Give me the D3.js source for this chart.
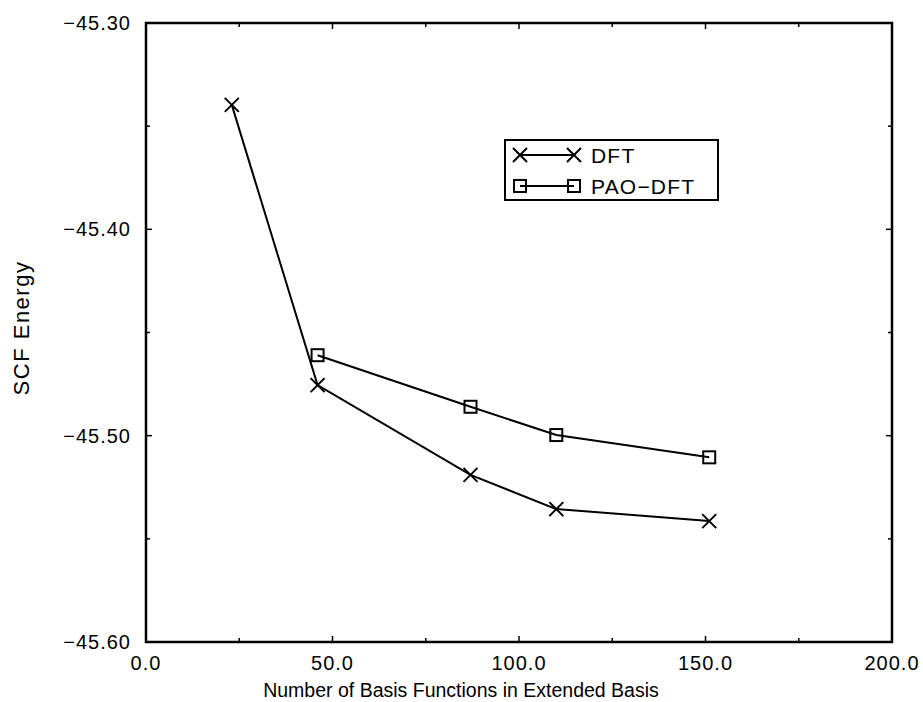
<!DOCTYPE html>
<html>
<head>
<meta charset="utf-8">
<script src="https://cdn.jsdelivr.net/npm/d3@7"></script>
<style>
  body { margin: 0; background: #fff; }
  svg text { font-family: "Liberation Sans", Arial, Helvetica, sans-serif; fill: #000; }
</style>
</head>
<body>
<svg id="chart" width="923" height="702"></svg>
<script>
"use strict";

// values
const dftX = [23, 46, 87, 110, 151];
const dftY = [-45.3397, -45.4755, -45.519, -45.5356, -45.5414];
const paoX = [46, 87, 110, 151];
const paoY = [-45.461, -45.486, -45.4997, -45.5105];
const xTicks = [0, 50, 100, 150, 200];
const yTicks = [-45.30, -45.40, -45.50, -45.60];
const seriesNames = ["DFT", "PAO\u2212DFT"];

let svg = d3.select('svg#chart');

let plot = { left: 146, right: 892, top: 23, bottom: 642 };

let x = d3.scaleLinear().domain([0, 200]).range([plot.left, plot.right]);
let y = d3.scaleLinear().domain([-45.60, -45.30]).range([plot.bottom, plot.top]);

let fmtY = v => d3.format('.2f')(v).replace('-', '\u2212');
let fmtX = v => d3.format('.1f')(v);

/* ticks: major on labels, minor halfway, on all four sides */
let minorX = d3.range(0, 201, 25);
let minorY = d3.range(0, 7).map(i => -45.60 + i * 0.05);

let tk = svg.append('g').attr('stroke', '#000').attr('stroke-width', 1.5);
minorX.forEach((v, i) => {
  let len = (i % 2 === 0) ? 6 : 4;
  tk.append('line').attr('x1', x(v)).attr('x2', x(v)).attr('y1', plot.bottom).attr('y2', plot.bottom - len);
  tk.append('line').attr('x1', x(v)).attr('x2', x(v)).attr('y1', plot.top).attr('y2', plot.top + len);
});
minorY.forEach((v, i) => {
  let len = (i % 2 === 0) ? 6 : 4;
  tk.append('line').attr('y1', y(v)).attr('y2', y(v)).attr('x1', plot.left).attr('x2', plot.left + len);
  tk.append('line').attr('y1', y(v)).attr('y2', y(v)).attr('x1', plot.right).attr('x2', plot.right - len);
});

/* frame */
svg.append('rect')
   .attr('x', plot.left).attr('y', plot.top)
   .attr('width', plot.right - plot.left).attr('height', plot.bottom - plot.top)
   .attr('fill', 'none').attr('stroke', '#000').attr('stroke-width', 2.5);

/* tick labels */
svg.selectAll('text.xtick')
   .data(xTicks).enter().append('text')
   .attr('class', 'xtick')
   .attr('x', d => x(d)).attr('y', 670)
   .attr('text-anchor', 'middle')
   .style('font-size', '20px').style('letter-spacing', '1px')
   .text(fmtX);

svg.selectAll('text.ytick')
   .data(yTicks).enter().append('text')
   .attr('class', 'ytick')
   .attr('x', 131).attr('y', d => y(d) + 7)
   .attr('text-anchor', 'end')
   .style('font-size', '20px').style('letter-spacing', '1px')
   .text(fmtY);

/* axis titles */
svg.append('text')
   .attr('x', 461).attr('y', 697)
   .attr('text-anchor', 'middle')
   .style('font-size', '19.5px')
   .text('Number of Basis Functions in Extended Basis');

svg.append('text')
   .attr('transform', 'translate(29,328) rotate(-90)')
   .attr('text-anchor', 'middle')
   .style('font-size', '22px').style('letter-spacing', '1.5px')
   .text('SCF Energy');

/* markers */
let cross = (g, cx, cy) => {
  let s = 7;
  g.append('path')
   .attr('d', `M${cx - s},${cy - s}L${cx + s},${cy + s}M${cx - s},${cy + s}L${cx + s},${cy - s}`)
   .attr('stroke', '#000').attr('stroke-width', 2).attr('fill', 'none');
};
let square = (g, cx, cy) => {
  let s = 6;
  g.append('rect')
   .attr('x', cx - s).attr('y', cy - s).attr('width', 2 * s).attr('height', 2 * s)
   .attr('stroke', '#000').attr('stroke-width', 2).attr('fill', 'none');
};

let line = d3.line().x(d => x(d[0])).y(d => y(d[1]));
let dft = d3.zip(dftX, dftY);
let pao = d3.zip(paoX, paoY);

let g = svg.append('g');
g.append('path').datum(dft).attr('d', line)
 .attr('fill', 'none').attr('stroke', '#000').attr('stroke-width', 2);
g.append('path').datum(pao).attr('d', line)
 .attr('fill', 'none').attr('stroke', '#000').attr('stroke-width', 2);
dft.forEach(d => cross(g, x(d[0]), y(d[1])));
pao.forEach(d => square(g, x(d[0]), y(d[1])));

/* legend */
let lg = svg.append('g');
lg.append('rect')
  .attr('x', 505).attr('y', 140).attr('width', 213).attr('height', 60)
  .attr('fill', '#fff').attr('stroke', '#000').attr('stroke-width', 2);
let rows = [155, 186];
let markers = [cross, square];
seriesNames.forEach((name, i) => {
  lg.append('line')
    .attr('x1', 520).attr('x2', 574).attr('y1', rows[i]).attr('y2', rows[i])
    .attr('stroke', '#000').attr('stroke-width', 2);
  markers[i](lg, 520, rows[i]);
  markers[i](lg, 574, rows[i]);
  lg.append('text')
    .attr('x', 591).attr('y', rows[i] + 8)
    .style('font-size', '21px').style('letter-spacing', '1.2px')
    .text(name);
});
</script>
</body>
</html>
